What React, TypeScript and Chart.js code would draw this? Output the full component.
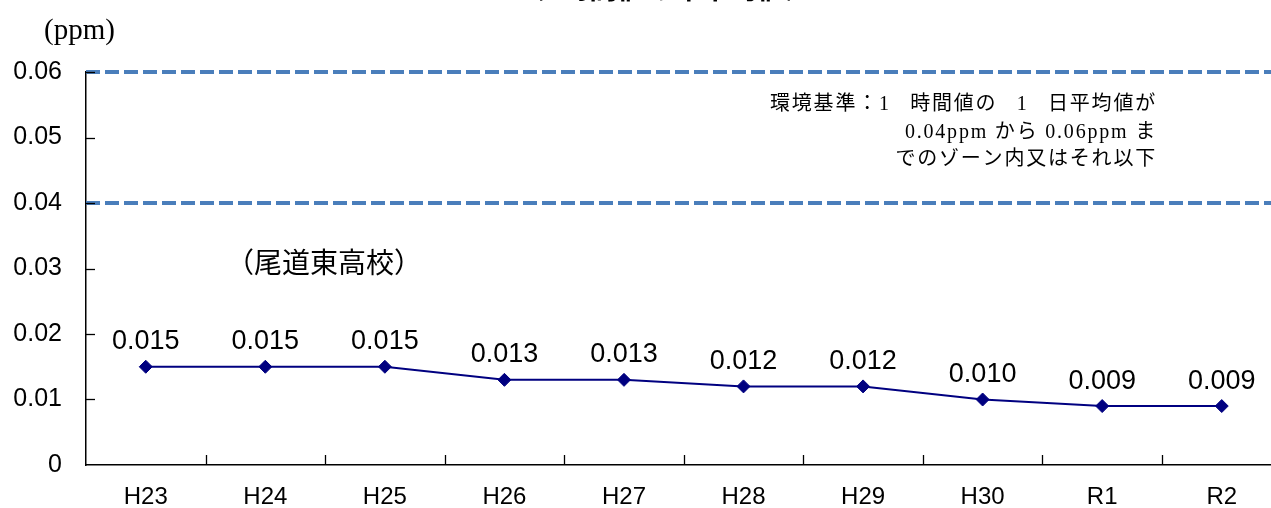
import { useEffect, useRef } from 'react';
import { Chart, registerables } from 'chart.js';

Chart.register(...registerables);

const categories = ['H23', 'H24', 'H25', 'H26', 'H27', 'H28', 'H29', 'H30', 'R1', 'R2'];
const values = [0.015, 0.015, 0.015, 0.013, 0.013, 0.012, 0.012, 0.010, 0.009, 0.009];
const yTickValues = [0.01, 0.02, 0.03, 0.04, 0.05, 0.06];
const standardLines = [0.04, 0.06];
const titleText = '（1時間値の年平均値）';
const unitText = '(ppm)';
const stationText = '（尾道東高校）';
const noteLines = [
  '環境基準：1 \u2009 時間値の \u2009 1 \u2009 日平均値が',
  '0.04ppm から 0.06ppm ま',
  'でのゾーン内又はそれ以下',
];

const SANS = "'Liberation Sans', Arial, sans-serif";
const SERIF = "'Liberation Serif', 'Noto Sans CJK JP', serif";

const overlay = {
  id: 'overlay',
  beforeDatasetsDraw(chart: any) {
    const { ctx, chartArea, scales } = chart;
    const y = scales.y;
    const x = scales.x;
    ctx.save();
    // standard dashed lines
    ctx.strokeStyle = '#4a7ebb';
    ctx.lineWidth = 4;
    ctx.setLineDash([14, 5]);
    for (const v of standardLines) {
      const py = Math.round(y.getPixelForValue(v));
      ctx.beginPath();
      ctx.moveTo(chartArea.left, py);
      ctx.lineTo(chart.width, py);
      ctx.stroke();
    }
    ctx.setLineDash([]);
    // inner tick marks on y axis
    ctx.strokeStyle = '#000';
    ctx.lineWidth = 1.3;
    for (const v of yTickValues) {
      const py = Math.round(y.getPixelForValue(v)) + 0.5;
      ctx.beginPath();
      ctx.moveTo(chartArea.left, py);
      ctx.lineTo(chartArea.left + 9, py);
      ctx.stroke();
    }
    // inner tick marks on x axis (between categories)
    for (let i = 1; i < categories.length; i++) {
      const px = Math.round((x.getPixelForTick(i - 1) + x.getPixelForTick(i)) / 2) + 0.5;
      ctx.beginPath();
      ctx.moveTo(px, chartArea.bottom);
      ctx.lineTo(px, chartArea.bottom - 10);
      ctx.stroke();
    }
    ctx.restore();
  },
  afterDatasetsDraw(chart: any) {
    const { ctx } = chart;
    const meta = chart.getDatasetMeta(0);
    ctx.save();
    ctx.fillStyle = '#000';
    // data labels
    ctx.font = `27px ${SANS}`;
    ctx.textAlign = 'center';
    ctx.textBaseline = 'middle';
    meta.data.forEach((pt: any, i: number) => {
      ctx.fillText(values[i].toFixed(3), pt.x, pt.y - 25);
    });
    // title (cut off at top)
    ctx.font = `bold 28px 'Noto Sans CJK JP', sans-serif`;
    ctx.textBaseline = 'alphabetic';
    ctx.fillText(titleText, 665, -1);
    // unit
    ctx.textAlign = 'left';
    ctx.textBaseline = 'middle';
    ctx.font = `29px ${SERIF}`;
    ctx.fillText(unitText, 44, 31);
    // station
    ctx.font = `28px 'Noto Sans CJK JP', sans-serif`;
    ctx.fillText(stationText, 226, 262);
    // note
    ctx.textAlign = 'right';
    ctx.font = `20px ${SERIF}`;
    (ctx as any).letterSpacing = '1.8px';
    noteLines.forEach((line, i) => {
      ctx.fillText(line, 1157, 105 + i * 27.5);
    });
    (ctx as any).letterSpacing = '0px';
    ctx.restore();
  },
};

export default function App() {
  const canvasRef = useRef<HTMLCanvasElement | null>(null);

  useEffect(() => {
    const canvas = canvasRef.current;
    if (!canvas) return;
    const chart = new Chart(canvas, {
      type: 'line',
      data: {
        labels: categories,
        datasets: [
          {
            data: values,
            borderColor: '#000080',
            backgroundColor: '#000080',
            borderWidth: 2,
            pointStyle: 'rectRot',
            pointRadius: 6.5,
            pointBorderWidth: 1,
            pointBackgroundColor: '#000080',
            pointBorderColor: '#000080',
            tension: 0,
            fill: false,
          },
        ],
      },
      options: {
        responsive: false,
        animation: false,
        devicePixelRatio: 1,
        layout: { padding: { top: 72, left: 0, right: 0, bottom: 0 } },
        plugins: {
          legend: { display: false },
          tooltip: { enabled: false },
          title: { display: false },
        },
        scales: {
          x: {
            type: 'category',
            offset: true,
            grid: { display: true, drawOnChartArea: false, drawTicks: false, offset: true },
            border: { display: true, color: '#000', width: 1.5 },
            ticks: {
              color: '#000',
              font: { family: SANS, size: 24 },
              padding: 18,
              maxRotation: 0,
              autoSkip: false,
            },
            afterFit: (scale: any) => {
              scale.height = 43;
            },
          },
          y: {
            min: 0,
            max: 0.06,
            grid: { display: true, drawOnChartArea: false, drawTicks: false },
            border: { display: true, color: '#000', width: 1.5 },
            ticks: {
              stepSize: 0.01,
              color: '#000',
              font: { family: SANS, size: 25 },
              padding: 24,
              callback: (v: any) => (Math.abs(v) < 1e-9 ? '0' : Number(v).toFixed(2)),
            },
            afterFit: (scale: any) => {
              scale.width = 86;
            },
          },
        },
      },
      plugins: [overlay],
    });
    return () => chart.destroy();
  }, []);

  return (
    <div
      style={{
        position: 'fixed',
        left: 0,
        top: 0,
        width: 1271,
        height: 508,
        overflow: 'hidden',
        background: '#fff',
      }}
    >
      <canvas ref={canvasRef} width={1289} height={508} style={{ display: 'block' }} />
    </div>
  );
}
